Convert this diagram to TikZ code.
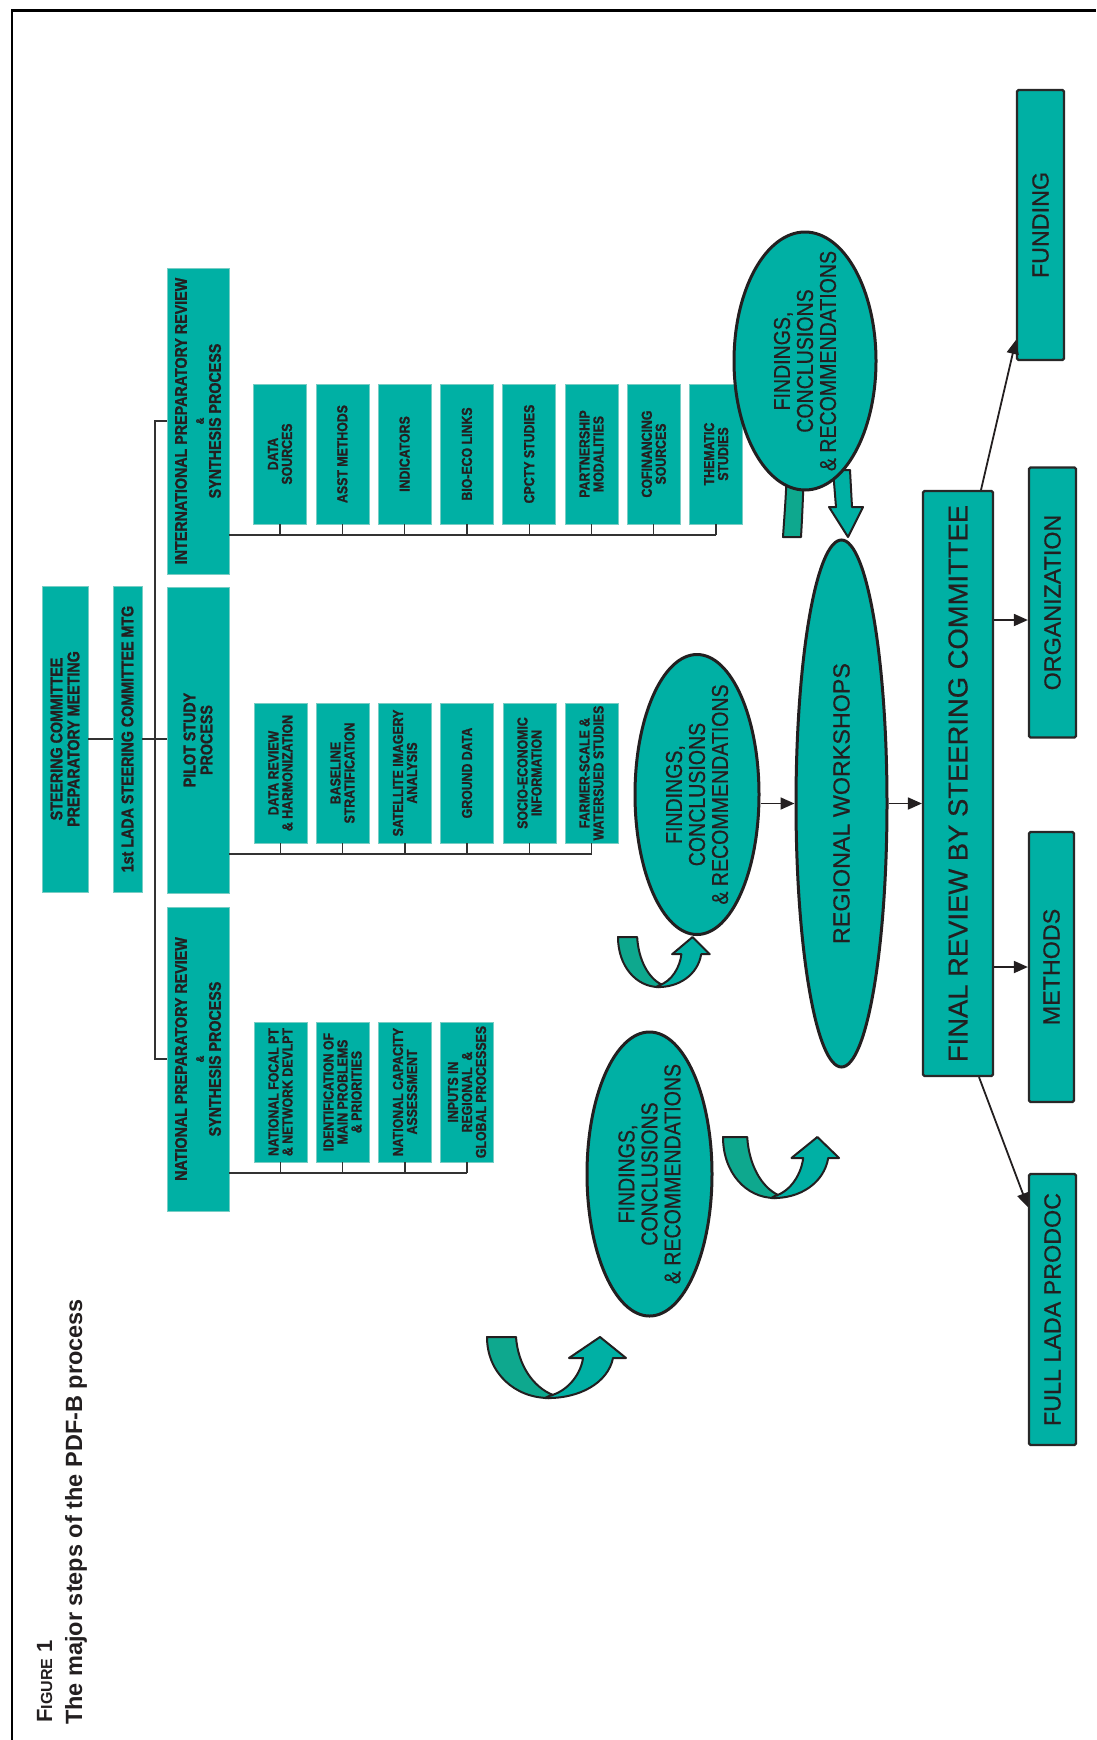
\documentclass[tikz,border=0pt]{standalone}
\usepackage{fontspec}
\setmainfont{Liberation Sans}
\newfontfamily\condf{Liberation Sans}[FakeStretch=0.85, FakeBold=0.6]
\newfontfamily\condb{Liberation Sans Bold}[FakeStretch=0.85, FakeBold=1.2]
\newfontfamily\regb{Liberation Sans}[FakeBold=0.5]
\usetikzlibrary{shapes.geometric,arrows.meta}
\definecolor{tealf}{RGB}{0,176,164}
\definecolor{tealdk}{RGB}{14,168,142}
\definecolor{tealedge}{RGB}{120,205,196}
\definecolor{edgedk}{RGB}{40,40,40}
\definecolor{linec}{RGB}{50,50,50}
\definecolor{txt}{RGB}{35,31,32}
\newcommand{\uarrowpair}[4]{%
\begin{scope}[shift={(#1,#2)},xscale=#3,yscale=#4]
\filldraw[fill=tealdk, draw=txt, line width=2pt, line join=round] (0,0) .. controls (0,36) and (28,61) .. (62,61) -- (66,58) .. controls (46,50) and (31,28) .. (29,0) -- cycle;
\filldraw[fill=tealf, draw=txt, line width=2pt, line join=round] (58,61) .. controls (92,62) and (121,46) .. (126,21) -- (139,21) -- (113,0) -- (82,21) -- (96,21) .. controls (94,36) and (82,54) .. (62,59) -- cycle;
\end{scope}}
\begin{document}
\begin{tikzpicture}[x=1pt,y=-1pt,
  sbox/.style={rectangle, fill=tealf, draw=tealedge, line width=0.6pt, inner sep=0pt, rotate=90, align=center, text=txt,
    font=\condb\fontsize{14.5}{14}\selectfont, minimum width=140pt, minimum height=53pt},
  mbox/.style={rectangle, fill=tealf, draw=tealedge, line width=0.6pt, inner sep=0pt, rotate=90, align=center, text=txt,
    font=\condb\fontsize{16.8}{17}\selectfont},
  rbox/.style={rectangle, fill=tealf, draw=edgedk, line width=2.2pt, rounded corners=1.5pt, inner sep=0pt, rotate=90, text=txt,
    font=\regb\fontsize{23.3}{24}\selectfont, minimum height=47pt, minimum width=270pt},
  fell/.style={ellipse, fill=tealf, draw=txt, line width=3pt, inner sep=0pt, rotate=90},
  etext/.style={rotate=90, align=center, inner sep=0pt, text=txt, font=\condf\fontsize{23}{23}\selectfont},
  conn/.style={draw=linec, line width=1.3pt},
  arr/.style={draw=txt, line width=1.8pt, -{Triangle[length=14pt,width=12pt]}},
  ubody/.style={fill=tealf, draw=txt, line width=2pt, line join=round},
  ubodydk/.style={fill=tealdk, draw=txt, line width=2pt, line join=round}]
\useasboundingbox (0,0) rectangle (1096,1740);
% frame
\draw[line width=2.5pt] (12,1740) -- (12,10.5) -- (1096,10.5);

% title
\node[anchor=base west, rotate=90, inner sep=0pt, text=txt, font=\bfseries\fontsize{22}{22}\selectfont] (fig) at (52,1723) {F{\fontsize{16}{16}\selectfont IGURE} 1};
\node[anchor=base west, rotate=90, inner sep=0pt, text=txt, font=\bfseries\fontsize{23.5}{24}\selectfont] (ttl) at (82,1725) {The major steps of the PDF-B process};

% left column
\node[mbox, minimum width=306pt, minimum height=46pt] (stc) at (65,739) {STEERING COMMITTEE\\PREPARATORY MEETING};
\node[mbox, minimum width=306pt, minimum height=29pt] (lada) at (127.5,739) {1st LADA STEERING COMMITTEE MTG};
\node[mbox, minimum width=306pt, minimum height=62pt] (intl) at (198,421) {INTERNATIONAL PREPARATORY REVIEW\\{\fontsize{11}{11}\selectfont\&}\\SYNTHESIS PROCESS};
\node[mbox, minimum width=306pt, minimum height=62pt] (pilot) at (198,740) {PILOT STUDY\\PROCESS};
\node[mbox, minimum width=304pt, minimum height=62pt] (nat) at (198,1059) {NATIONAL PREPARATORY REVIEW\\{\fontsize{11}{11}\selectfont\&}\\SYNTHESIS PROCESS};

\coordinate (trunk) at (155,421);
\draw[conn] (stc.south) -- (lada.north);
\draw[conn] (lada.south) -- (lada.south -| pilot.north);
\draw[conn] (intl.north) -- (intl.north -| trunk) -- (nat.north -| trunk) -- (nat.north);

% international sub-boxes
\node[sbox] (ids) at (280,454) {DATA\\SOURCES};
\node[sbox] (iam) at (342.3,454) {ASST METHODS};
\node[sbox] (iin) at (404.6,454) {INDICATORS};
\node[sbox] (ibe) at (466.9,454) {BIO-ECO LINKS};
\node[sbox] (icp) at (529.2,454) {CPCTY STUDIES};
\node[sbox] (ipm) at (591.5,454) {PARTNERSHIP\\MODALITIES};
\node[sbox] (icf) at (653.8,454) {COFINANCING\\SOURCES};
\node[sbox] (ith) at (716.1,454) {THEMATIC\\STUDIES};
\coordinate (ibus) at (0,535);
\draw[conn] (intl.south |- ibus) -- (ith.west |- ibus);
\foreach \n in {ids,iam,iin,ibe,icp,ipm,icf,ith} \draw[conn] (\n.west) -- (\n.west |- ibus);

% pilot sub-boxes
\node[sbox] (pdr) at (280.5,773) {DATA REVIEW\\\& HARMONIZATION};
\node[sbox] (pbs) at (342.5,773) {BASELINE\\STRATIFICATION};
\node[sbox] (psi) at (405,773) {SATELLITE IMAGERY\\ANALYSIS};
\node[sbox] (pgd) at (467,773) {GROUND DATA};
\node[sbox] (pse) at (529.5,773) {SOCIO-ECONOMIC\\INFORMATION};
\node[sbox] (pfs) at (591.5,773) {FARMER-SCALE \&\\WATERSUED STUDIES};
\coordinate (pbus) at (0,854);
\draw[conn] (pilot.south |- pbus) -- (pfs.west |- pbus);
\foreach \n in {pdr,pbs,psi,pgd,pse,pfs} \draw[conn] (\n.west) -- (\n.west |- pbus);

% national sub-boxes
\node[sbox] (nfp) at (280.5,1092) {NATIONAL FOCAL PT\\\& NETWORK DEVLPT};
\node[sbox] (nid) at (342.5,1092) {IDENTIFICATION OF\\MAIN PROBLEMS\\\& PRIORITIES};
\node[sbox] (nca) at (405,1092) {NATIONAL CAPACITY\\ASSESSMENT};
\node[sbox] (nin) at (467,1092) {INPUTS IN\\REGIONAL \ \&\\GLOBAL PROCESSES};
\coordinate (nbus) at (0,1173);
\draw[conn] (nat.south |- nbus) -- (nin.west |- nbus);
\foreach \n in {nfp,nid,nca,nin} \draw[conn] (\n.west) -- (\n.west |- nbus);

% hidden U arrow behind top ellipse
\filldraw[ubodydk] (787,465) .. controls (786,500) and (784,520) .. (783,537) -- (801,537) .. controls (802,520) and (803,500) .. (804,465) -- cycle;
\filldraw[ubody] (833,470) -- (850,470) -- (852,507) -- (863,507) -- (848,537) -- (829,507) -- (836,507) -- cycle;

% ellipses
\node[fell, minimum width=258pt, minimum height=142pt] (ftop) at (805,361) {};
\node[etext] (ftopt) at (ftop) {FINDINGS,\\CONCLUSIONS\\\& RECOMMENDATIONS};
\node[fell, minimum width=280pt, minimum height=124pt] (fmid) at (697,794.5) {};
\node[etext] (fmidt) at (fmid) {FINDINGS,\\CONCLUSIONS\\\& RECOMMENDATIONS};
\node[fell, minimum width=284pt, minimum height=125pt] (flow) at (649.5,1174) {};
\node[etext] (flowt) at (flow) {FINDINGS,\\CONCLUSIONS\\\& RECOMMENDATIONS};
\node[fell, minimum width=527pt, minimum height=91pt] (rw) at (841.5,803.5) {};
\node[rotate=90, inner sep=0pt, text=txt, font=\regb\fontsize{23.3}{24}\selectfont] (rwt) at (rw) {REGIONAL WORKSHOPS};

% U arrows
\uarrowpair{487}{1337}{1}{1}
\uarrowpair{723}{1137}{0.835}{1}
\uarrowpair{618}{937}{0.66}{0.82}

% right boxes
\node[rbox, minimum width=585pt, minimum height=70pt, font=\regb\fontsize{27.4}{28}\selectfont] (fr) at (958,783.5) {FINAL REVIEW BY STEERING COMMITTEE};
\node[rbox] (fund) at (1040.5,225) {FUNDING};
\node[rbox] (org) at (1052.5,602.5) {ORGANIZATION};
\node[rbox, minimum height=45pt] (meth) at (1051.5,967) {METHODS};
\node[rbox, minimum width=271pt] (full) at (1052.5,1309.5) {FULL LADA PRODOC};

% arrows
\coordinate (yorg) at (0,620);
\draw[arr] (fmid.south |- rw.north) -- (rw.north);
\draw[arr] (rw.south) -- (rw.south -| fr.north);
\draw[arr] ([xshift=23pt]fr.east) -- ([yshift=-115pt]fund.north);
\draw[arr] (fr.south |- yorg) -- (org.north |- yorg);
\draw[arr] (fr.south |- meth.north) -- (meth.north);
\draw[arr] ([xshift=21pt]fr.west) -- ([yshift=102.5pt]full.north);
\end{tikzpicture}
\end{document}
